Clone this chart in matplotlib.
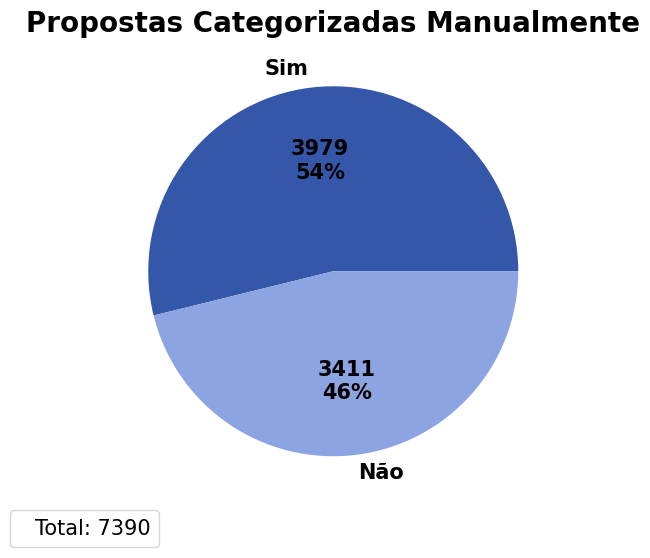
import matplotlib.pyplot as plt
from matplotlib.lines import Line2D

labels = ["Sim", "Não"]
counts = [3979, 3411]
colors = ["#3557a9", "#8ca4e2"]
total = sum(counts)

fig = plt.figure(figsize=(6.5, 5.58), dpi=100)
ax = fig.add_axes([102 / 650, 55.5 / 558, 462.5 / 650, 462.5 / 558])


def fmt(pct):
    n = int(round(pct * total / 100.0))
    return "{}\n{:.0f}%".format(n, pct)


wedges, texts, autotexts = ax.pie(counts, labels=labels, colors=colors, autopct=fmt,
                                  textprops={"fontsize": 15, "fontweight": "bold"})
ax.set_xlim(-1.25, 1.25)
ax.set_ylim(-1.25, 1.25)
ax.set_aspect("equal")
ax.set_title("Propostas Categorizadas Manualmente", fontsize=20, fontweight="bold")

h = Line2D([], [], linestyle="none", marker="")
fig.legend(handles=[h], labels=["Total: {}".format(total)], loc="lower left",
           bbox_to_anchor=(10 / 650, 11 / 558), borderaxespad=0, fontsize=15,
           handlelength=0, handletextpad=0.8)

fig.savefig("out.png", dpi=100)
